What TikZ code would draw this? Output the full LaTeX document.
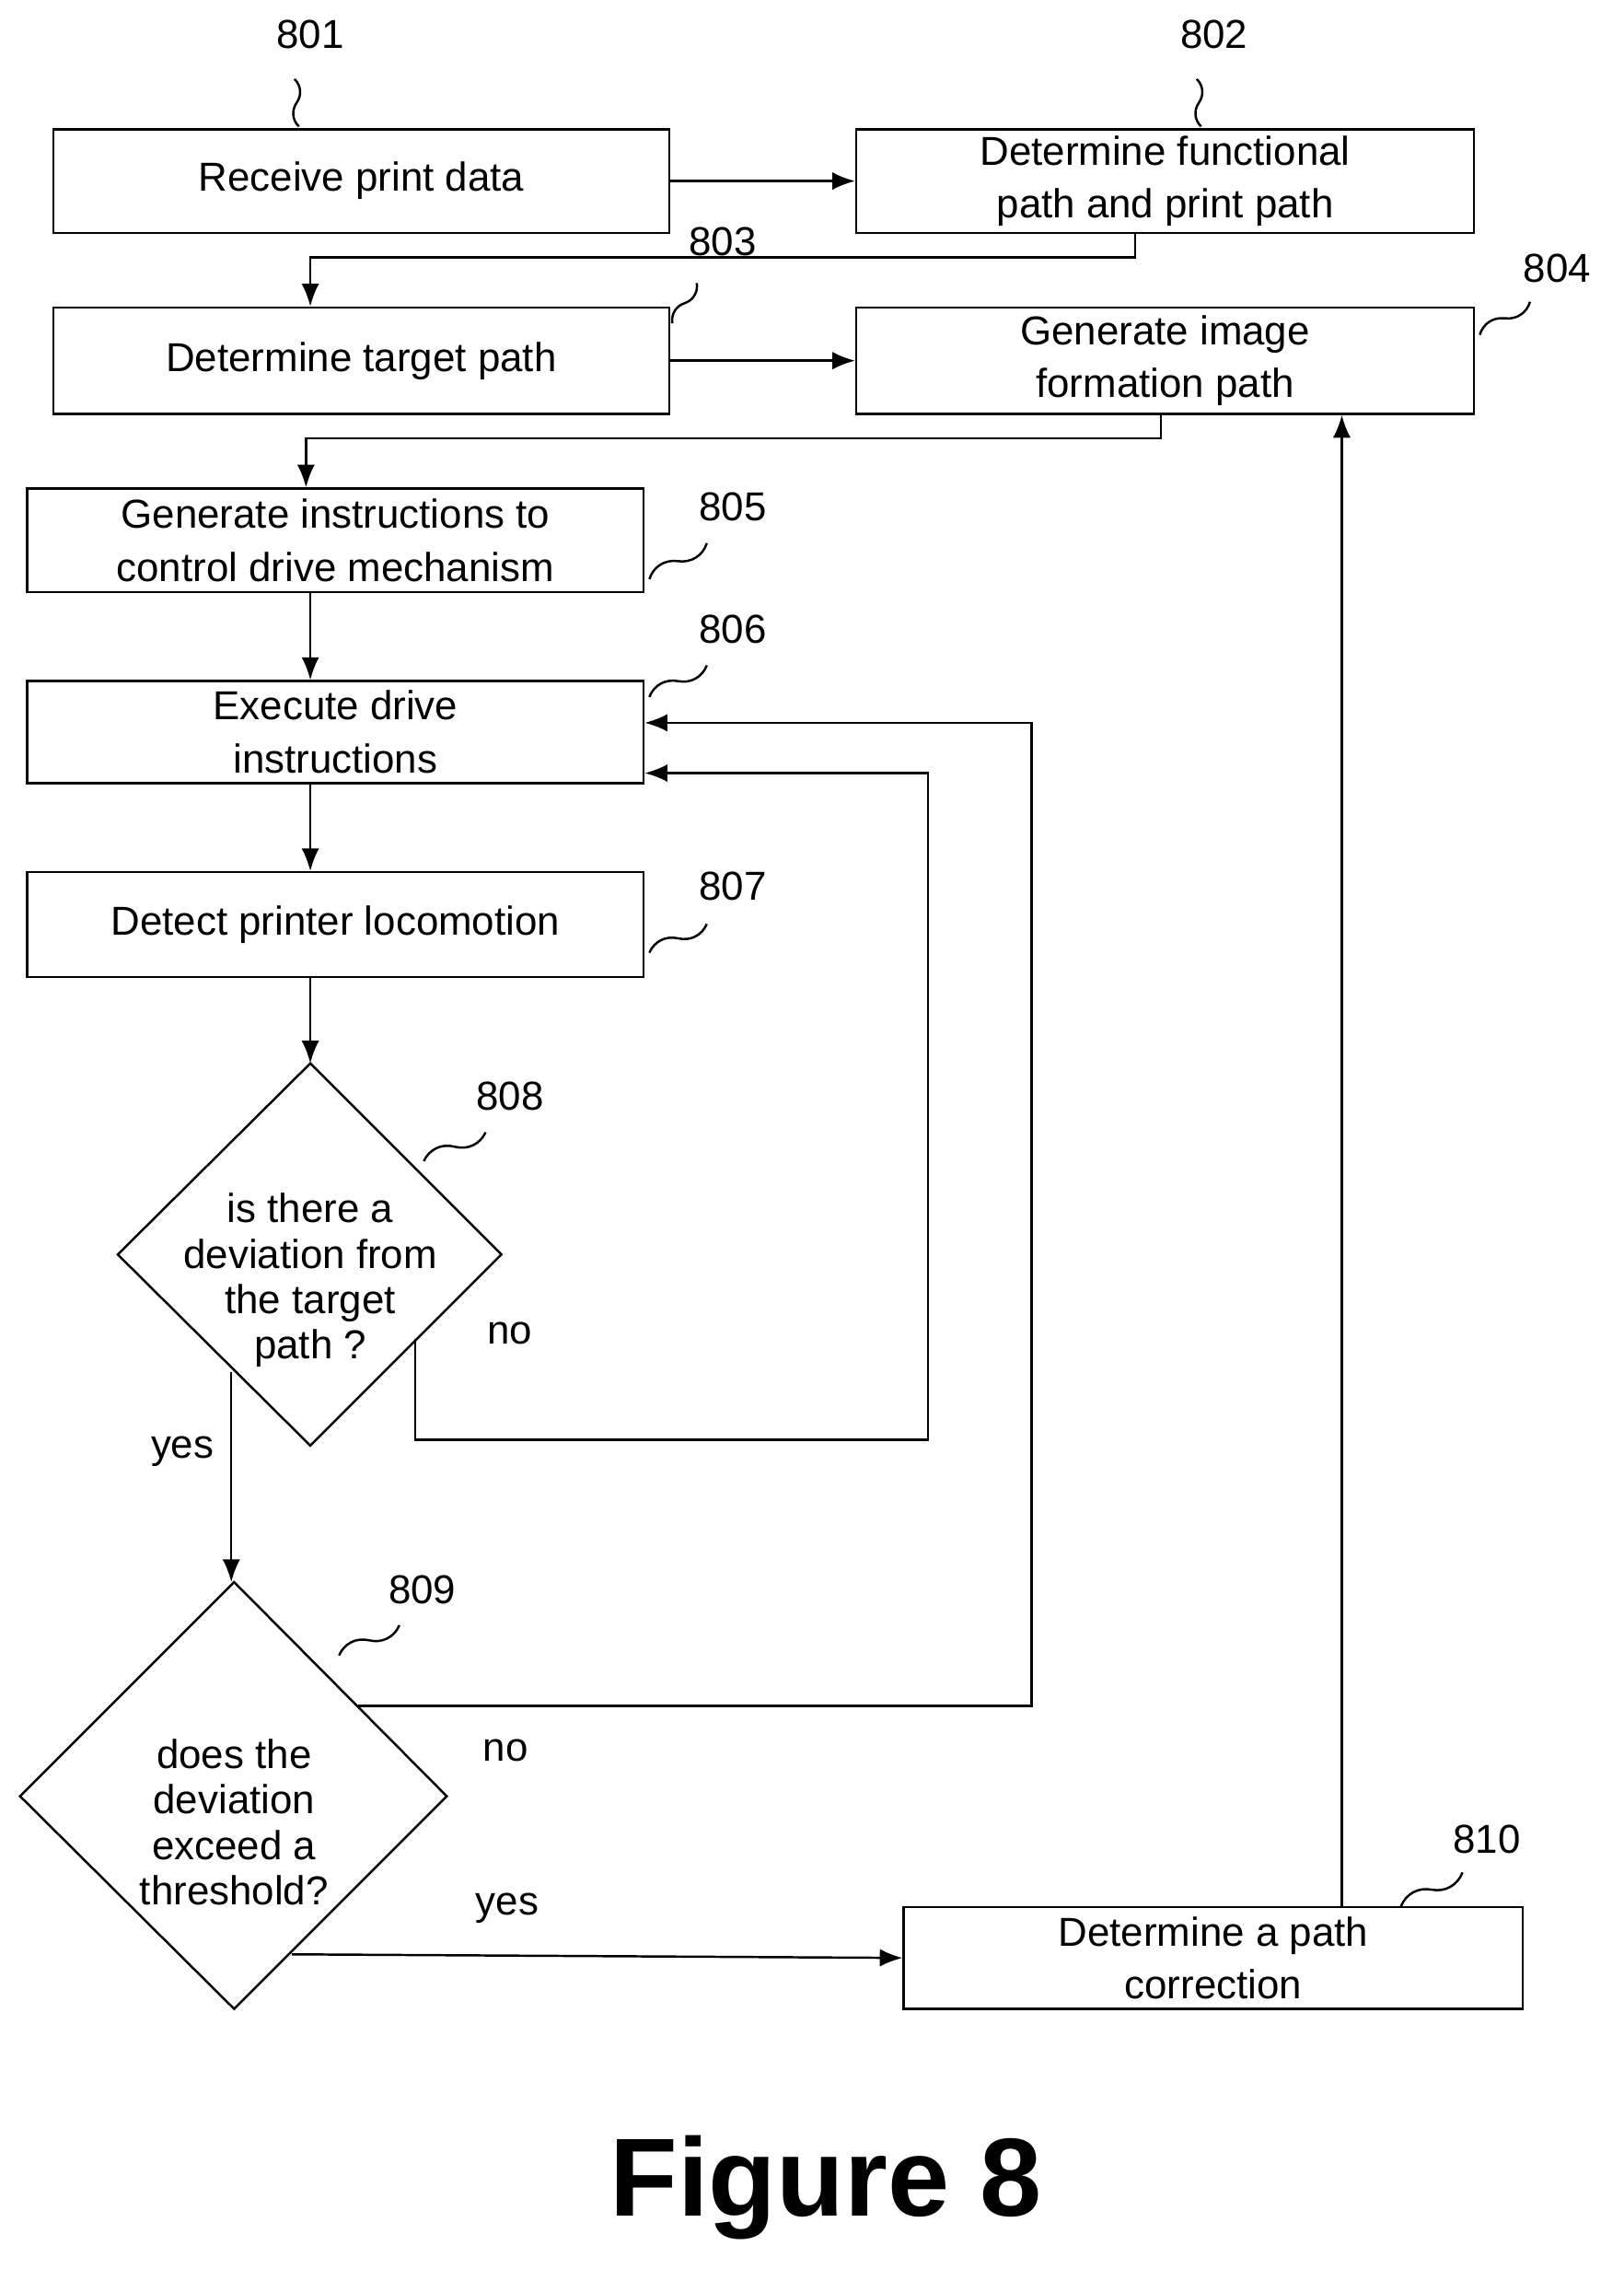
\documentclass[tikz,border=0pt]{standalone}
\usepackage{fontspec}
\setmainfont{Liberation Sans}
\usetikzlibrary{calc}
\usetikzlibrary{shapes}
\usetikzlibrary{arrows.meta}
\newcommand{\squig}[2]{\draw ( #1 ) to[bend left=40] ($( #1 )!0.5!( #2 )$) to[bend right=40] ( #2 );}
\newcommand{\reflabel}[3]{\node[font=\fontsize{16}{18}\selectfont] (#1) at ( #2 ) {#3};}

\begin{document}
\begin{tikzpicture}[x=0.02cm,y=-0.02cm,line width=0.9pt,
  box/.style={draw,rectangle,font=\fontsize{16}{21}\selectfont,align=center,inner sep=0pt},
  lbl/.style={font=\fontsize{16}{18}\selectfont},
  arr/.style={-{Latex[length=9pt,width=7pt]}}]
        \useasboundingbox (0,0) rectangle (1130,1579);
        % boxes
        \node[box,minimum width=8.58cm,minimum height=1.44cm] (b801) at (251.5,126) {Receive print data};
        \node[box,minimum width=8.6cm,minimum height=1.44cm] (b802) at (811,126) {Determine functional\\path and print path};
        \node[box,minimum width=8.58cm,minimum height=1.48cm] (b803) at (251.5,251) {Determine target path};
        \node[box,minimum width=8.6cm,minimum height=1.48cm] (b804) at (811,251) {Generate image\\formation path};
        \node[box,minimum width=8.58cm,minimum height=1.44cm] (b805) at (233.5,376) {Generate instructions to\\control drive mechanism};
        \node[box,minimum width=8.58cm,minimum height=1.42cm] (b806) at (233.5,509.5) {Execute drive\\instructions};
        \node[box,minimum width=8.58cm,minimum height=1.46cm] (b807) at (233.5,643.5) {Detect printer locomotion};
        \node[box,minimum width=8.62cm,minimum height=1.42cm] (b810) at (844.5,1362.5) {Determine a path\\correction};
        % diamonds
        \draw (216,740) coordinate (d8t) -- (349,873) -- (216,1006) -- (82,873) -- cycle;
        \node[lbl,align=center] (d808) at (216,891) {is there a\\deviation from\\the target\\path ?};
        \draw (163,1101) coordinate (d9t) -- (311,1250) -- (163,1398) -- (14,1250) -- cycle;
        \node[lbl,align=center] (d809) at (163,1268) {does the\\deviation\\exceed a\\threshold?};
        % numbers
        \reflabel{n801}{216,24}{801}
        \reflabel{n802}{845,24}{802}
        \reflabel{n803}{503,168}{803}
        \reflabel{n804}{1084,187}{804}
        \reflabel{n805}{510,353}{805}
        \reflabel{n806}{510,438}{806}
        \reflabel{n807}{510,617}{807}
        \reflabel{n808}{355,763}{808}
        \reflabel{n809}{294,1106}{809}
        \reflabel{n810}{1035,1280}{810}
        \squig{205,55}{208,88}
        \squig{833,55}{836,88}
        \squig{485,197}{468,225}
        \squig{1030,233}{1065,210}
        \squig{452,403}{492,378}
        \squig{452,485}{492,463}
        \squig{452,663}{492,643}
        \squig{295,808}{338,788}
        \squig{236,1152}{278,1131}
        \squig{975,1327}{1018,1303}
        % helper coordinates
        \coordinate (x790) at (790,0);
        \coordinate (x808) at (808,0);
        \coordinate (x934) at (934,0);
        \coordinate (x216) at (216,0);
        \coordinate (x213) at (213,0);
        \coordinate (y538) at (0,538);
        \coordinate (y503) at (0,503);
        % connectors
        \draw[arr] (b801) -- (b802);
        \draw[arr] (b802.south -| x790) |- (216,179) -- (b803.north -| x216);
        \draw[arr] (b803) -- (b804);
        \draw[arr] (b804.south -| x808) |- (213,305) -- (b805.north -| x213);
        \draw[arr] (b805.south -| x216) -- (b806.north -| x216);
        \draw[arr] (b806.south -| x216) -- (b807.north -| x216);
        \draw[arr] (b807.south -| x216) -- (d8t);
        \coordinate (c8no) at (289,932);
        \draw[arr] (c8no) |- (646,1002) |- (b806.east |- y538);
        \coordinate (c8yes) at (161,955);
        \draw[arr] (c8yes) -- (d9t -| c8yes);
        \coordinate (c9no) at (249,1187);
        \draw[arr] (c9no) -| (718,503) -- (b806.east |- y503);
        \coordinate (c9yes) at (203,1360);
        \draw[arr] (c9yes) -- (b810.west);
        \draw[arr] (b810.north -| x934) -- (b804.south -| x934);
        % branch labels
        \node[lbl] (t8no) at (355,928) {no};
        \node[lbl] (t8yes) at (127,1010) {yes};
        \node[lbl] (t9no) at (352,1218) {no};
        \node[lbl] (t9yes) at (353,1328) {yes};
        % caption
        \node[font=\fontsize{44}{50}\selectfont\bfseries] (cap) at (575,1522) {Figure 8};
    \end{tikzpicture}
\end{document}
